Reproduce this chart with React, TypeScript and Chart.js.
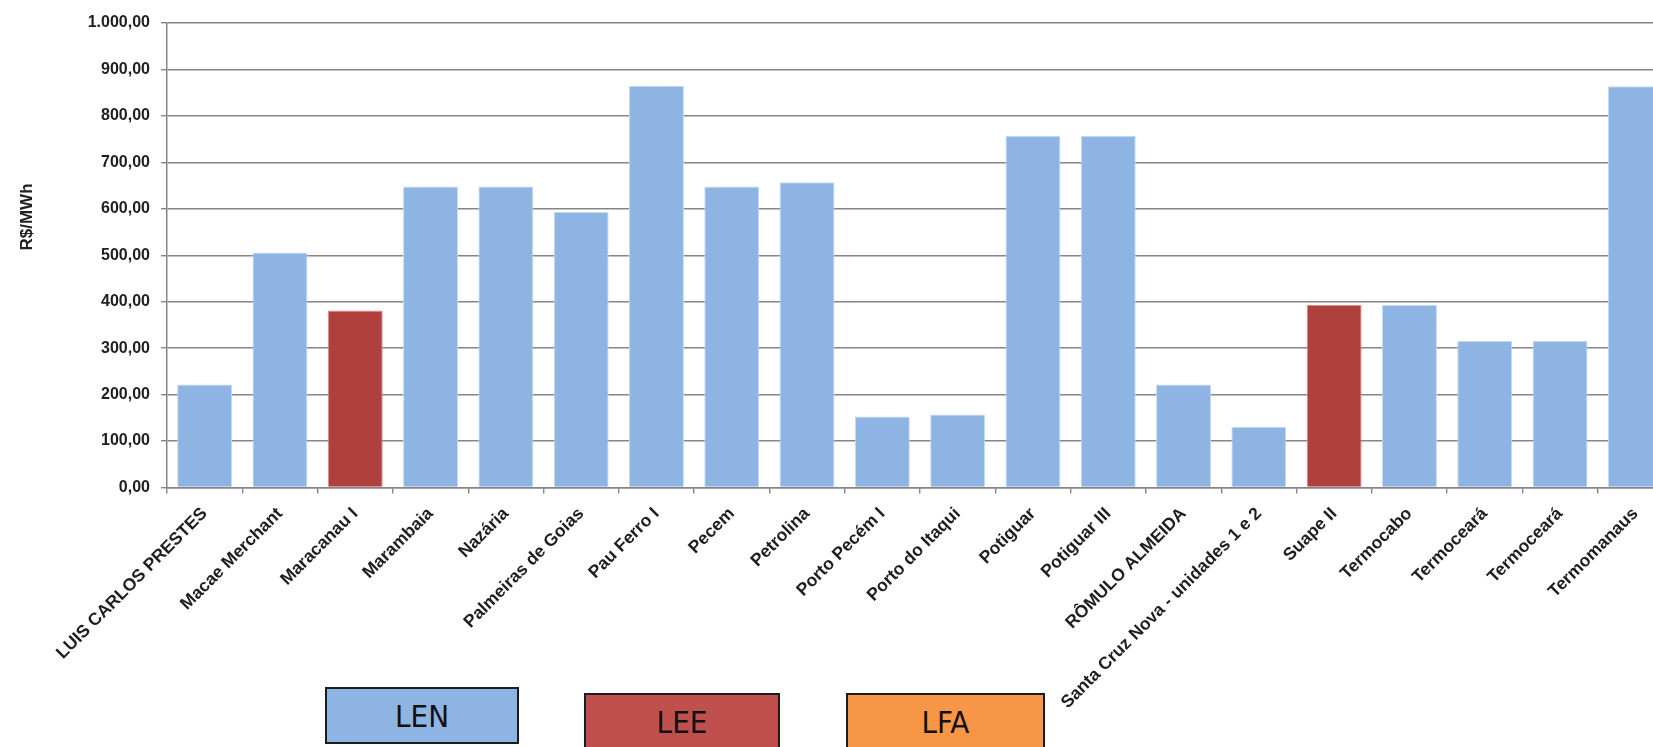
import React, { useEffect, useRef } from "react";
import { Chart, registerables } from "chart.js";

Chart.register(...registerables);

const categories = [
  "LUIS CARLOS PRESTES",
  "Macae Merchant",
  "Maracanau I",
  "Marambaia",
  "Nazária",
  "Palmeiras de Goias",
  "Pau Ferro I",
  "Pecem",
  "Petrolina",
  "Porto Pecém I",
  "Porto do Itaqui",
  "Potiguar",
  "Potiguar III",
  "RÔMULO ALMEIDA",
  "Santa Cruz Nova - unidades 1 e 2",
  "Suape II",
  "Termocabo",
  "Termoceará",
  "Termoceará",
  "Termomanaus",
];

const values = [
  222, 506, 381, 648, 648, 593, 865, 648, 657, 153, 157, 757, 757, 222, 131, 393, 393, 316, 316, 864,
];

const auctions = [
  "LEN", "LEN", "LEE", "LEN", "LEN", "LEN", "LEN", "LEN", "LEN", "LEN",
  "LEN", "LEN", "LEN", "LEN", "LEN", "LEE", "LEN", "LEN", "LEN", "LEN",
];

const yTickLabels = [
  "0,00", "100,00", "200,00", "300,00", "400,00", "500,00",
  "600,00", "700,00", "800,00", "900,00", "1.000,00",
];

const legendItems = ["LEN", "LEE", "LFA"];

const yTitle = "R$/MWh";

const barFill: Record<string, string> = { LEN: "#8EB4E3", LEE: "#B0403D", LFA: "#F79646" };
const barEdge: Record<string, string> = { LEN: "#C6DAF2", LEE: "#D98E8C", LFA: "#FAC090" };
const legendFill: Record<string, string> = { LEN: "#8DB4E2", LEE: "#C0504D", LFA: "#F79646" };

const legendBoxes = [
  { left: 325, top: 687, width: 194 },
  { left: 584, top: 693, width: 196 },
  { left: 846, top: 693, width: 199 },
];

const CANVAS_W = 1700;
const CANVAS_H = 747;
const AREA_LEFT = 167;
const AREA_TOP = 23;
const AREA_RIGHT = 1673;
const AREA_BOTTOM = 487.5;

const yTitlePlugin = {
  id: "yTitlePlugin",
  afterDraw(chart: any) {
    const ctx = chart.ctx;
    ctx.save();
    ctx.translate(27, 217);
    ctx.rotate(-Math.PI / 2);
    ctx.font = "bold 17px 'Liberation Sans', Arial, sans-serif";
    ctx.fillStyle = "#222";
    ctx.textAlign = "center";
    ctx.textBaseline = "middle";
    ctx.fillText(yTitle, 0, 0);
    ctx.restore();
  },
};

export default function App() {
  const canvasRef = useRef<HTMLCanvasElement | null>(null);

  useEffect(() => {
    if (!canvasRef.current) return;
    const chart = new Chart(canvasRef.current, {
      type: "bar",
      data: {
        labels: categories,
        datasets: [
          {
            data: values,
            backgroundColor: auctions.map((a) => barFill[a]),
            borderColor: auctions.map((a) => barEdge[a]),
            borderWidth: 1,
            categoryPercentage: 1,
            barPercentage: 0.73,
          },
        ],
      },
      options: {
        animation: false,
        responsive: true,
        maintainAspectRatio: false,
        layout: { padding: { left: 0, top: AREA_TOP, right: CANVAS_W - AREA_RIGHT, bottom: 0 } },
        plugins: { legend: { display: false }, tooltip: { enabled: false }, title: { display: false } },
        scales: {
          x: {
            afterFit: (scale: any) => {
              scale.height = CANVAS_H - AREA_BOTTOM;
            },
            grid: {
              display: true,
              drawOnChartArea: false,
              drawTicks: true,
              tickLength: 6,
              color: "#858585",
              lineWidth: 1.4,
            },
            border: { display: true, color: "#858585", width: 1.5 },
            ticks: {
              autoSkip: false,
              minRotation: 45,
              maxRotation: 45,
              padding: 10,
              color: "#1e1e1e",
              font: { family: "'Liberation Sans', Arial, sans-serif", size: 17.5, weight: "bold" },
            },
          },
          y: {
            min: 0,
            max: 1000,
            afterFit: (scale: any) => {
              scale.width = AREA_LEFT;
            },
            grid: {
              color: "#858585",
              lineWidth: 1.4,
              drawTicks: true,
              tickLength: 6,
            },
            border: { display: true, color: "#858585", width: 1.5 },
            ticks: {
              stepSize: 100,
              padding: 11,
              color: "#1e1e1e",
              font: { family: "'Liberation Sans', Arial, sans-serif", size: 16, weight: "bold" },
              callback: (v: any) => yTickLabels[Math.round(Number(v) / 100)],
            },
          },
        },
      },
      plugins: [yTitlePlugin],
    });
    return () => chart.destroy();
  }, []);

  return (
    <div style={{ position: "fixed", left: 0, top: 0, width: "100vw", height: "100vh", overflow: "hidden", background: "#fff" }}>
      <div style={{ position: "absolute", left: 0, top: 0, width: CANVAS_W, height: CANVAS_H }}>
        <canvas ref={canvasRef} />
      </div>
      {legendItems.map((name, i) => (
        <div
          key={name}
          style={{
            position: "absolute",
            left: legendBoxes[i].left,
            top: legendBoxes[i].top,
            width: legendBoxes[i].width,
            height: 57,
            boxSizing: "border-box",
            border: "2px solid #1c1c1c",
            background: legendFill[name],
            display: "flex",
            alignItems: "center",
            justifyContent: "center",
            fontFamily: "'DejaVu Sans Condensed', 'Liberation Sans Narrow', sans-serif",
            fontSize: 31,
            color: "#111",
          }}
        >
          {name}
        </div>
      ))}
    </div>
  );
}
